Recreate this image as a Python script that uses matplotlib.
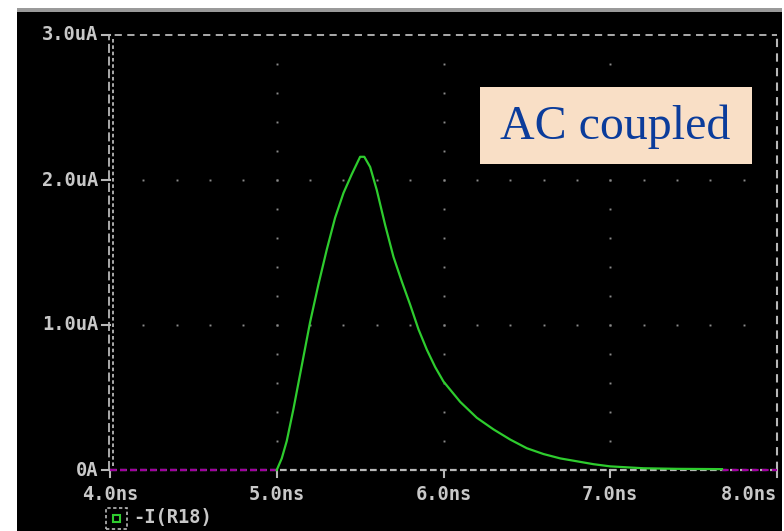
import numpy as np
import matplotlib
matplotlib.use("Agg")
import matplotlib.pyplot as plt
from matplotlib.patches import Rectangle
from matplotlib.transforms import offset_copy

# ---- data ----
time_ns = [5.0, 5.03, 5.06, 5.10, 5.15, 5.20, 5.25, 5.30, 5.35, 5.40, 5.45,
           5.50, 5.525, 5.56, 5.60, 5.65, 5.70, 5.75, 5.80, 5.85, 5.90, 5.95,
           6.00, 6.10, 6.20, 6.30, 6.40, 6.50, 6.60, 6.70, 6.80, 6.90, 7.00,
           7.20, 7.40, 7.67]
current_uA = [0.0, 0.08, 0.20, 0.42, 0.72, 1.02, 1.28, 1.52, 1.74, 1.91, 2.04,
              2.16, 2.16, 2.09, 1.93, 1.69, 1.47, 1.30, 1.14, 0.97, 0.83, 0.71,
              0.61, 0.47, 0.36, 0.28, 0.21, 0.15, 0.11, 0.08, 0.06, 0.04, 0.025,
              0.012, 0.008, 0.006]
zero_segments = [(4.0, 5.0), (7.67, 8.0)]
x_ticks = [4.0, 5.0, 6.0, 7.0, 8.0]
x_labels = ["4.0ns", "5.0ns", "6.0ns", "7.0ns", "8.0ns"]
y_ticks = [0.0, 1.0, 2.0, 3.0]
y_labels = ["0A", "1.0uA", "2.0uA", "3.0uA"]
legend_label = "-I(R18)"
annotation = "AC coupled"

W, H = 784, 531
fig = plt.figure(figsize=(W / 100, H / 100), dpi=100)
fig.patch.set_facecolor("white")

def fx(x):
    return x / W

def fy(y):
    return 1 - y / H

# screen background
fig.add_artist(Rectangle((fx(17), 0), fx(782) - fx(17), fy(8), transform=fig.transFigure,
                         facecolor="black", edgecolor="none", zorder=0))
fig.add_artist(Rectangle((fx(17), fy(12)), fx(782) - fx(17), fy(8) - fy(12),
                         transform=fig.transFigure, facecolor="#9a9a9a",
                         edgecolor="none", zorder=1))

# plot axes
left, right, top, bottom = 110, 777, 35, 470
ax = fig.add_axes([fx(left), fy(bottom), fx(right) - fx(left), fy(top) - fy(bottom)])
ax.set_facecolor("none")
ax.set_xlim(4.0, 8.0)
ax.set_ylim(0.0, 3.0)
ax.axis("off")

grid_c = "#8a8a8a"
axis_c = "#b8b8b8"

# grid dots
gx = np.arange(4.2, 7.81, 0.2)
for yv in [1.0, 2.0]:
    ax.plot(gx, np.full_like(gx, yv), ls="none", marker="s", ms=1.4, mec="none",
            mfc=grid_c, zorder=2)
gy = np.arange(0.2, 2.81, 0.2)
for xv in [5.0, 6.0, 7.0]:
    ax.plot(np.full_like(gy, xv), gy, ls="none", marker="s", ms=1.4, mec="none",
            mfc=grid_c, zorder=2)

# frame: top and right dashed lines
ax.plot([3.95, 8.0], [3.0, 3.0], color=axis_c, lw=1.3, ls=(0, (4, 3)), clip_on=False, zorder=3)
ax.plot([8.0, 8.0], [0.0, 3.0], color=axis_c, lw=1.5, ls=(0, (4, 3)), clip_on=False, zorder=3)
# left double dashed line
dx = 4.0 / 667
ax.plot([4.0 - 1 * dx, 4.0 - 1 * dx], [0.0, 3.0], color=axis_c, lw=1.3, ls=(0, (5, 2)),
        clip_on=False, zorder=3)
ax.plot([4.0 + 3 * dx, 4.0 + 3 * dx], [0.03, 2.98], color=axis_c, lw=1.3, ls=(0, (2, 1.5)),
        clip_on=False, zorder=3)
# bottom axis
ax.plot([4.0, 8.0], [0.0, 0.0], color=axis_c, lw=1.6, ls=(0, (3, 1.5)), clip_on=False, zorder=3)
for a, b in zero_segments:
    ax.plot([a, b], [0.0, 0.0], color="#a000a0", lw=1.6, ls=(0, (3, 1.5)),
            clip_on=False, zorder=4)

# tick marks
dy = 3.0 / 435
for xv in x_ticks:
    ax.plot([xv, xv], [0.0, -7 * dy], color=axis_c, lw=1.5, clip_on=False, zorder=3)
for yv in y_ticks:
    ax.plot([4.0 - 8 * dx, 4.0], [yv, yv], color=axis_c, lw=1.5, clip_on=False, zorder=3)

# curve
ax.plot(time_ns, current_uA, color="#2ecc2e", lw=1.6, zorder=5, clip_on=False)

# tick labels
tfont = dict(family="DejaVu Sans Mono", weight="bold", size=13.5, color="#c8c8c8")
for xv, lab in zip(x_ticks, x_labels):
    ha = "right" if xv == x_ticks[-1] else "center"
    tr = offset_copy(ax.transData, fig=fig, x=0, y=-24, units="dots")
    ax.text(xv, 0.0, lab, transform=tr, ha=ha, va="center", clip_on=False, **tfont)
for yv, lab in zip(y_ticks, y_labels):
    tr = offset_copy(ax.transData, fig=fig, x=-12, y=0, units="dots")
    ax.text(4.0, yv, lab, transform=tr, ha="right", va="center", clip_on=False, **tfont)

# legend
fig.add_artist(Rectangle((fx(106), fy(529)), fx(127) - fx(106), fy(508) - fy(529),
                         transform=fig.transFigure, facecolor="none", edgecolor=axis_c,
                         lw=1.2, ls=(0, (2, 1.5)), zorder=6))
fig.add_artist(Rectangle((fx(113), fy(522)), fx(120) - fx(113), fy(515) - fy(522),
                         transform=fig.transFigure, facecolor="none", edgecolor="#2ecc2e",
                         lw=1.5, zorder=6))
fig.text(fx(133), fy(518), legend_label, ha="left", va="center", **tfont)

# annotation box
fig.add_artist(Rectangle((fx(480), fy(164)), fx(752) - fx(480), fy(87) - fy(164),
                         transform=fig.transFigure, facecolor="#f9dfc6",
                         edgecolor="none", zorder=6))
fig.text(fx(615), fy(127), annotation, ha="center", va="center",
         family="Liberation Serif", size=34.5, color="#0b3c9b", zorder=7)

fig.savefig("out.png", dpi=100, facecolor=fig.get_facecolor())
